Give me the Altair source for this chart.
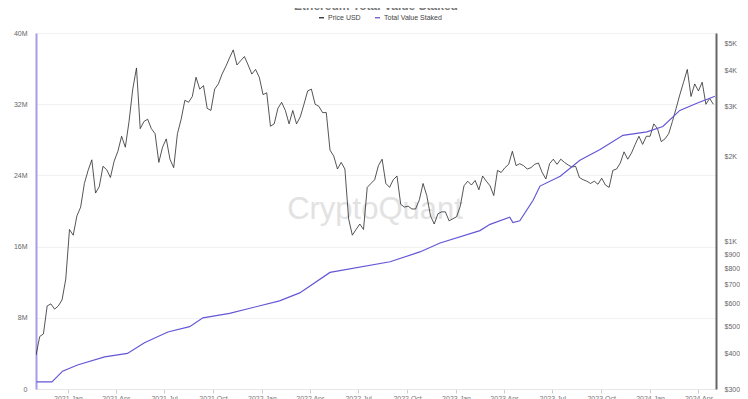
import altair as alt
import pandas as pd

# ---- Data ----
price_start = "2020-11-02"  # weekly samples (Mondays)
price_2020 = [395, 460, 470, 590, 600, 575, 590, 620, 735]
price_2021 = [1100, 1050, 1230, 1320, 1600, 1780, 1940, 1480, 1560, 1840, 1790, 1680, 1920,
              2080, 2350, 2150, 2650, 3450, 4100, 2500, 2650, 2700, 2500, 2400, 1900, 2150,
              2300, 1950, 1820, 2400, 2700, 3150, 3100, 3250, 3800, 3450, 3550, 2950, 2900,
              3450, 3600, 3900, 4150, 4450, 4750, 4200, 4350, 4500, 4200, 3900, 4050, 3800]
price_2022 = [3300, 3350, 2550, 2600, 2950, 3100, 2900, 2600, 2900, 2600, 2750, 3050, 3400,
              3450, 3050, 3000, 2850, 2850, 2100, 2000, 1800, 1900, 1800, 1200, 1050, 1100,
              1150, 1100, 1550, 1600, 1650, 1850, 1950, 1600, 1550, 1650, 1700, 1350, 1320,
              1330, 1300, 1300, 1400, 1600, 1450, 1230, 1150, 1250, 1270, 1270, 1180, 1200]
price_2023 = [1220, 1330, 1570, 1630, 1580, 1640, 1520, 1700, 1630, 1570, 1450, 1780, 1750,
              1820, 1870, 2080, 1850, 1880, 1850, 1800, 1820, 1870, 1890, 1750, 1660, 1880,
              1950, 1870, 1950, 1900, 1860, 1830, 1840, 1680, 1650, 1630, 1600, 1630, 1590,
              1670, 1580, 1550, 1780, 1800, 1890, 2070, 1950, 2050, 2200, 2350, 2200, 2350]
price_2024 = [2350, 2600, 2500, 2250, 2300, 2400, 2650, 2950, 3300, 3650, 4050, 3250, 3600,
              3400, 3650, 3050, 3200, 3050]

staked_dates = ["2020-11-03", "2020-12-02", "2020-12-22", "2021-01-19", "2021-03-11",
                "2021-04-23", "2021-05-25", "2021-07-08", "2021-08-18", "2021-09-12",
                "2021-11-01", "2022-02-03", "2022-03-13", "2022-05-09", "2022-08-30",
                "2022-10-25", "2022-12-02", "2023-02-15", "2023-03-06", "2023-04-12",
                "2023-04-18", "2023-05-01", "2023-05-26", "2023-06-08", "2023-07-16",
                "2023-08-22", "2023-09-29", "2023-11-11", "2023-12-26", "2024-01-25",
                "2024-02-26", "2024-03-29", "2024-05-02"]
staked_millions = [0.79, 0.79, 2.0, 2.7, 3.6, 4.0, 5.2, 6.4, 7.0, 8.0, 8.5, 9.9, 10.8, 13.1,
                   14.3, 15.4, 16.4, 17.8, 18.5, 19.3, 18.7, 18.9, 21.2, 22.8, 23.9, 25.7,
                   26.9, 28.5, 28.9, 29.5, 31.3, 32.1, 32.9]

left_ticks = [0, 8, 16, 24, 32, 40]
right_ticks = [300, 400, 500, 600, 700, 800, 900, 1000, 2000, 3000, 4000, 5000]
quarter_ticks = [(2021, 1), (2021, 4), (2021, 7), (2021, 10), (2022, 1), (2022, 4), (2022, 7),
                 (2022, 10), (2023, 1), (2023, 4), (2023, 7), (2023, 10), (2024, 1), (2024, 4)]

series_names = ["Price USD", "Total Value Staked"]
series_colors = ["#2a2a2a", "#6357d6"]
title_text = "Ethereum Total Value Staked"
watermark_text = "CryptoQuant"

# ---- Tables ----
prices = price_2020 + price_2021 + price_2022 + price_2023 + price_2024
price_df = pd.DataFrame({
    "date": pd.date_range(price_start, periods=len(prices), freq="7D").strftime("%Y-%m-%d"),
    "price": prices,
    "series": series_names[0],
})
staked_df = pd.DataFrame({"date": staked_dates, "staked": staked_millions,
                          "series": series_names[1]})

FONT = "Liberation Sans"
x_domain = [alt.DateTime(year=2020, month=11, date=2), alt.DateTime(year=2024, month=5, date=4)]
x_enc = alt.X(
    "date:T",
    scale=alt.Scale(domain=x_domain),
    axis=alt.Axis(
        title=None, format="%Y %b", grid=False,
        values=[alt.DateTime(year=y, month=m, date=1) for y, m in quarter_ticks],
        labelFontSize=7, labelColor="#777", labelFont=FONT, labelPadding=1,
        tickColor="#cccccc", tickSize=4, domainColor="#e6e6e6", labelOverlap=False,
    ),
)
color_enc = alt.Color(
    "series:N",
    scale=alt.Scale(domain=series_names, range=series_colors),
    legend=alt.Legend(title=None),
)

price_line = alt.Chart(price_df).mark_line(strokeWidth=0.8, clip=True).encode(
    x=x_enc,
    y=alt.Y(
        "price:Q",
        scale=alt.Scale(type="log", domain=[300, 5450]),
        axis=alt.Axis(
            orient="right", title=None, grid=False, values=right_ticks,
            labelExpr="datum.value >= 1000 ? '$' + (datum.value / 1000) + 'K' : '$' + datum.value",
            labelFontSize=7, labelColor="#666", labelFont=FONT, ticks=False, tickSize=0,
            labelPadding=8, domainColor="#666666", domainWidth=2,
        ),
    ),
    color=color_enc,
)

staked_line = alt.Chart(staked_df).mark_line(strokeWidth=1.2).encode(
    x=alt.X("date:T"),
    y=alt.Y(
        "staked:Q",
        scale=alt.Scale(domain=[0, 40]),
        axis=alt.Axis(
            orient="left", title=None, values=left_ticks,
            labelExpr="datum.value == 0 ? '0' : datum.value + 'M'",
            labelFontSize=7, labelColor="#666", labelFont=FONT, ticks=False, tickSize=0,
            labelPadding=9, domainColor="#a69ce8", domainWidth=2,
            grid=True, gridColor="#f1f1f1", gridWidth=1,
        ),
    ),
    color=color_enc,
)

label_df = pd.DataFrame({"title": [title_text], "wm": [watermark_text]})
title_mark = alt.Chart(label_df).mark_text(
    fontSize=12, fontWeight="bold", color="#777", font=FONT, align="center", baseline="alphabetic",
).encode(text="title:N", x=alt.value(340), y=alt.value(-23))
watermark = alt.Chart(label_df).mark_text(
    fontSize=31, color="#e2e2e2", font=FONT, align="center", baseline="middle",
).encode(text="wm:N", x=alt.value(339), y=alt.value(177))

chart = alt.layer(watermark, price_line, staked_line, title_mark).resolve_scale(
    y="independent"
).properties(
    width=680, height=356,
    autosize=alt.AutoSizeParams(type="none"),
    padding={"left": 28, "top": 25, "right": 24, "bottom": 10},
).configure_view(
    stroke=None
).configure_legend(
    orient="none", legendX=282, legendY=-19, direction="horizontal",
    symbolType="stroke", symbolSize=25, symbolStrokeWidth=1.3,
    labelFontSize=7, labelColor="#444", labelFont=FONT, columnPadding=11,
    labelOffset=3, padding=0,
)

chart.save("out.html", embed_options={"renderer": "svg", "actions": False})
